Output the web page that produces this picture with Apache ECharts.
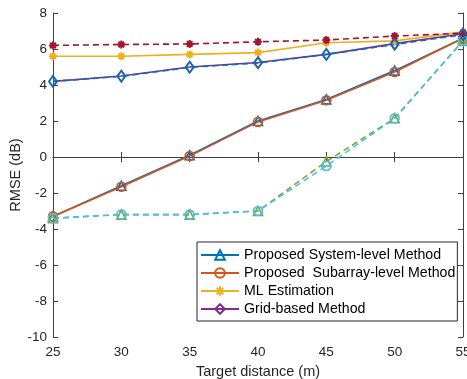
<!DOCTYPE html>
<html>
<head>
<meta charset="utf-8">
<script src="https://cdn.jsdelivr.net/npm/echarts@6/dist/echarts.min.js"></script>
<style>html,body{margin:0;padding:0;background:#fff;}#c{width:467px;height:379px;}</style>
</head>
<body>
<div id="c"></div>
<script>
var distances = [25, 30, 35, 40, 45, 50, 55];
var systemLevel = [-3.3, -1.6, 0.1, 2.0, 3.2, 4.8, 6.6];
var subarrayLevel = [-3.3, -1.65, 0.05, 1.95, 3.15, 4.72, 6.6];
var mlEstimation = [5.6, 5.6, 5.7, 5.8, 6.35, 6.45, 6.95];
var gridBased = [4.2, 4.5, 5.0, 5.25, 5.7, 6.3, 6.85];
var systemLevelDashed = [-3.4, -3.2, -3.2, -3.0, -0.25, 2.15, 6.45];
var subarrayLevelDashed = [-3.4, -3.2, -3.2, -3.0, -0.5, 2.15, 6.45];
var mlEstimationDashed = [6.2, 6.25, 6.28, 6.4, 6.5, 6.72, 6.88];
var gridBasedDashed = [4.2, 4.48, 4.98, 5.22, 5.7, 6.25, 6.8];
var legendNames = ['Proposed System-level Method', 'Proposed  Subarray-level Method', 'ML Estimation', 'Grid-based Method'];

var asterisk = 'path://M0,-10L0,10M-10,0L10,0M-7,-7L7,7M-7,7L7,-7';
function pairs(vals){ return distances.map(function(d,i){ return [d, vals[i]]; }); }
function mk(name, vals, color, symbol, size, dashed, filled){
  return {
    name: name, type: 'line', data: pairs(vals),
    symbol: symbol, symbolSize: size,
    lineStyle: {color: color, width: 1.6, type: dashed ? [6,4] : 'solid'},
    itemStyle: {color: filled ? color : 'rgba(0,0,0,0)', borderColor: color, borderWidth: filled ? 2 : 1.6},
    emphasis: {disabled: true}, animation: false, z: 2
  };
}
var axisCol = '#404040';
var txt = '#262626';
var font = 'Liberation Sans, Arial, sans-serif';
var chart = echarts.init(document.getElementById('c'), null, {renderer: 'canvas'});
chart.setOption({
  backgroundColor: '#fff',
  animation: false,
  grid: {left: 53, right: 4, top: 13, bottom: 42, containLabel: false, outerBoundsMode: 'none'},
  legend: {
    data: legendNames, orient: 'vertical', left: 197, top: 242,
    itemWidth: 38, itemHeight: 12, itemGap: 4, padding: [6, 2, 5, 3],
    borderColor: '#262626', borderWidth: 1, backgroundColor: '#fff',
    textStyle: {fontFamily: font, fontSize: 14.2, lineHeight: 14, color: '#000'}
  },
  xAxis: [{
    type: 'value', min: 25, max: 55, interval: 5, position: 'bottom',
    name: 'Target distance (m)', nameLocation: 'middle', nameGap: 27, nameMoveOverlap: false,
    nameTextStyle: {fontFamily: font, fontSize: 14.5, color: txt},
    axisLine: {lineStyle: {color: axisCol, width: 1}},
    axisTick: {inside: true, length: 5, lineStyle: {color: axisCol}},
    axisLabel: {fontFamily: font, fontSize: 13.5, color: txt, margin: 8},
    splitLine: {show: false}
  }, {
    type: 'value', min: 25, max: 55, interval: 5, position: 'top',
    axisLine: {show: true, lineStyle: {color: axisCol, width: 1}},
    axisTick: {show: true, inside: true, length: 5, lineStyle: {color: axisCol}},
    axisLabel: {show: false}, splitLine: {show: false}
  }],
  yAxis: [{
    type: 'value', min: -10, max: 8, interval: 2, position: 'left',
    name: 'RMSE (dB)', nameLocation: 'middle', nameGap: 30, nameRotate: 90, nameMoveOverlap: false,
    nameTextStyle: {fontFamily: font, fontSize: 14.5, color: txt},
    axisLine: {show: true, lineStyle: {color: axisCol, width: 1}},
    axisTick: {show: true, inside: true, length: 5, lineStyle: {color: axisCol}},
    axisLabel: {fontFamily: font, fontSize: 13.5, color: txt, margin: 6},
    splitLine: {show: false}
  }, {
    type: 'value', min: -10, max: 8, interval: 2, position: 'right',
    axisLine: {show: true, lineStyle: {color: axisCol, width: 1}},
    axisTick: {show: true, inside: true, length: 5, lineStyle: {color: axisCol}},
    axisLabel: {show: false}, splitLine: {show: false}
  }],
  series: [
    mk(legendNames[0], systemLevel, '#0072BD', 'triangle', 9, false, false),
    mk(legendNames[1], subarrayLevel, '#D95319', 'circle', 9, false, false),
    mk(legendNames[2], mlEstimation, '#EDB120', asterisk, 8, false, true),
    mk(legendNames[3], gridBased, '#7E2F8E', 'diamond', [8, 11], false, false),
    mk('sysDashed', systemLevelDashed, '#77AC30', 'triangle', 9, true, false),
    mk('subDashed', subarrayLevelDashed, '#4DBEEE', 'circle', 9, true, false),
    mk('mlDashed', mlEstimationDashed, '#A2142F', asterisk, 8, true, true),
    mk('gridDashed', gridBasedDashed, '#0072BD', 'diamond', [8, 11], true, false)
  ]
});
</script>
</body>
</html>
